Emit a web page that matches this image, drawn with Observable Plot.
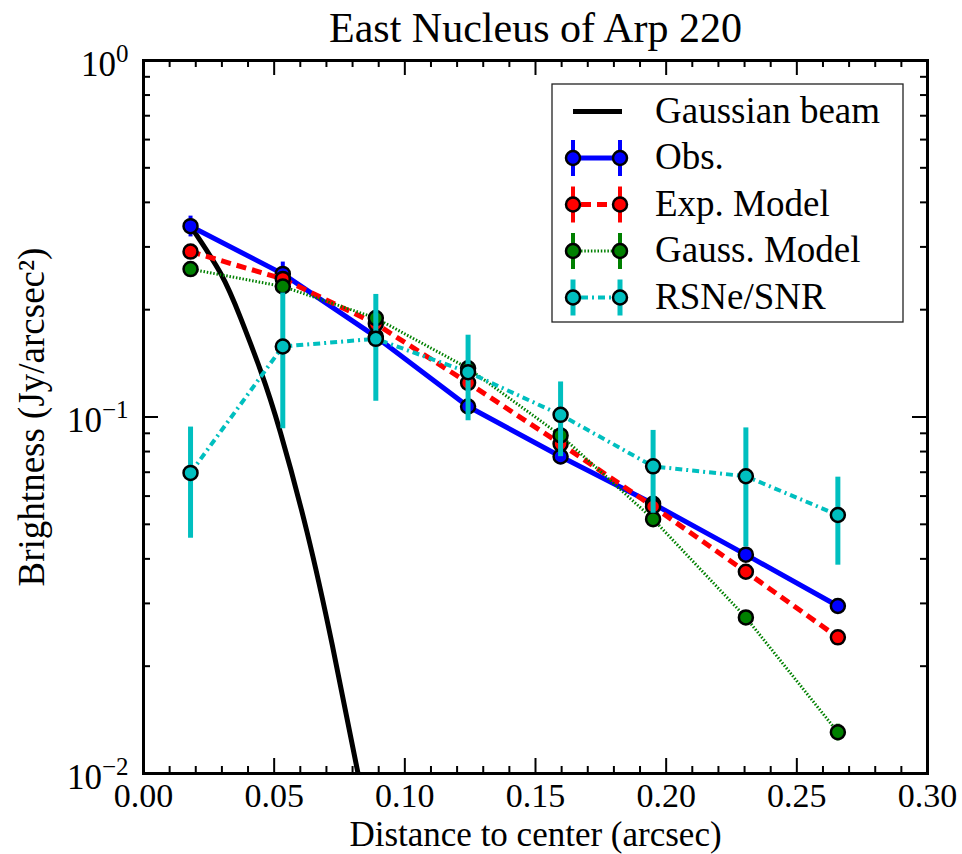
<!DOCTYPE html>
<html><head><meta charset="utf-8">
<script src="https://cdn.jsdelivr.net/npm/d3@7"></script>
<script src="https://cdn.jsdelivr.net/npm/@observablehq/plot@0.6"></script>
<style>
body{margin:0;background:#fff;}
#chart{width:962px;height:854px;}
#chart svg text{font-family:"Liberation Serif","Times New Roman",serif !important;}
</style></head><body><div id="chart"></div>
<script>
// ---- data ----
const distance   = [0.0180, 0.0533, 0.0889, 0.1242, 0.1596, 0.1950, 0.2305, 0.2657];
const obs        = [0.343, 0.252, 0.168, 0.107, 0.0775, 0.0571, 0.0411, 0.0295];
const obsErr     = [0.023, 0.020, 0.012, 0.007, 0.004, 0.003, 0.002, 0.0012];
const expModel   = [0.291, 0.244, 0.1825, 0.1247, 0.0841, 0.0561, 0.0368, 0.0241];
const expErr     = [0.003, 0.003, 0.002, 0.002, 0.0015, 0.001, 0.0007, 0.0005];
const gaussModel = [0.260, 0.2323, 0.1894, 0.137, 0.0888, 0.0517, 0.0274, 0.01305];
const gaussErr   = [0.004, 0.003, 0.003, 0.002, 0.0015, 0.0012, 0.0012, 0.0007];
const rsne       = [0.0697, 0.1577, 0.1657, 0.1336, 0.1014, 0.0727, 0.0682, 0.0531];
const rsneErr    = [0.024, 0.065, 0.055, 0.036, 0.024, 0.019, 0.025, 0.0147];
const beamX      = [0.0180, 0.0295, 0.0371, 0.0448, 0.0524, 0.0626, 0.0722, 0.0821];
const beamY      = [0.343, 0.253, 0.190, 0.135, 0.0905, 0.0475, 0.0230, 0.0100];

const xMajor = [0, 0.05, 0.10, 0.15, 0.20, 0.25, 0.30];
const xTickLabels = ["0.00", "0.05", "0.10", "0.15", "0.20", "0.25", "0.30"];
const xMinor = d3.range(1, 30).filter(i => i % 5 !== 0).map(i => i / 100);
const yMajor = [1, 0.1, 0.01];
const yExponents = ["0", "\u22121", "\u22122"];
const yMinor = [2,3,4,5,6,7,8,9].flatMap(k => [k * 0.01, k * 0.1]);

const titleText = "East Nucleus of Arp 220";
const xLabel = "Distance to center (arcsec)";
const yLabel = "Brightness (Jy/arcsec\u00b2)";
const legendLabels = ["Gaussian beam", "Obs.", "Exp. Model", "Gauss. Model", "RSNe/SNR"];

// ---- styles ----
const FONT = "Liberation Serif, serif";
const W = 962, H = 854, mL = 143, mR = 35, mT = 60, mB = 81;
const innerW = W - mL - mR, innerH = H - mT - mB;
const R = 7;

const series = [
  {name: "Obs.", ys: obs, errs: obsErr, color: "#0000ff", width: 5, dash: null, errWidth: 4},
  {name: "Exp. Model", ys: expModel, errs: expErr, color: "#ff0000", width: 5, dash: "10,6", errWidth: 4},
  {name: "Gauss. Model", ys: gaussModel, errs: gaussErr, color: "#008000", width: 3, dash: "1.5,1.8", errWidth: 4},
  {name: "RSNe/SNR", ys: rsne, errs: rsneErr, color: "#00bfbf", width: 4, dash: "7,4,2,4", errWidth: 5}
];
const rowsOf = s => distance.map((x, i) => ({x, y: s.ys[i], lo: s.ys[i] - s.errs[i], hi: s.ys[i] + s.errs[i]}));
const beamRows = beamX.map((x, i) => ({x, y: beamY[i]}));

const seriesMarks = series.flatMap(s => {
  const rows = rowsOf(s);
  return [
    Plot.ruleX(rows, {x: "x", y1: "lo", y2: "hi", stroke: s.color, strokeWidth: s.errWidth}),
    Plot.line(rows, {x: "x", y: "y", stroke: s.color, strokeWidth: s.width,
      strokeDasharray: s.dash ?? undefined, strokeLinecap: "butt", strokeLinejoin: "round"}),
    Plot.dot(rows, {x: "x", y: "y", r: R, fill: s.color, stroke: "#000", strokeWidth: 2.5})
  ];
});

const txt = {fontFamily: FONT, fill: "#000", lineAnchor: "middle"};

const chart = Plot.plot({
  width: W, height: H,
  marginLeft: mL, marginRight: mR, marginTop: mT, marginBottom: mB,
  style: {fontFamily: FONT, background: "#fff", overflow: "visible"},
  x: {domain: [0, 0.3], axis: null},
  y: {type: "log", domain: [0.01, 1], axis: null},
  marks: [
    Plot.line(beamRows, {x: "x", y: "y", stroke: "#000", strokeWidth: 5, curve: "natural", clip: true}),
    ...seriesMarks,
    // ticks (inward, all four sides)
    Plot.ruleX(xMajor, {x: d => d, insetTop: innerH - 15, stroke: "#000", strokeWidth: 2}),
    Plot.ruleX(xMajor, {x: d => d, insetBottom: innerH - 15, stroke: "#000", strokeWidth: 2}),
    Plot.ruleX(xMinor, {x: d => d, insetTop: innerH - 7, stroke: "#000", strokeWidth: 2}),
    Plot.ruleX(xMinor, {x: d => d, insetBottom: innerH - 7, stroke: "#000", strokeWidth: 2}),
    Plot.ruleY(yMajor, {y: d => d, insetRight: innerW - 15, stroke: "#000", strokeWidth: 2}),
    Plot.ruleY(yMajor, {y: d => d, insetLeft: innerW - 15, stroke: "#000", strokeWidth: 2}),
    Plot.ruleY(yMinor, {y: d => d, insetRight: innerW - 7, stroke: "#000", strokeWidth: 2}),
    Plot.ruleY(yMinor, {y: d => d, insetLeft: innerW - 7, stroke: "#000", strokeWidth: 2}),
    Plot.frame({stroke: "#000", strokeWidth: 3}),
    // tick labels
    Plot.text(xMajor, {...txt, x: d => d, text: (d, i) => xTickLabels[i], frameAnchor: "bottom",
      textAnchor: "middle", dy: 23, fontSize: 34}),
    Plot.text(yMajor, {...txt, y: d => d, text: (d, i) => yExponents[i], frameAnchor: "left",
      textAnchor: "end", dx: -15, dy: 4, fontSize: 35}),
    // axis labels & title
    Plot.text([xLabel], {...txt, text: d => d, frameAnchor: "bottom", textAnchor: "middle", dy: 61.5, fontSize: 35}),
    Plot.text([yLabel], {...txt, text: d => d, frameAnchor: "left", textAnchor: "middle", rotate: -90, dx: -111, fontSize: 37}),
    Plot.text([titleText], {...txt, text: d => d, frameAnchor: "top", textAnchor: "middle", dy: -31.5, fontSize: 42})
  ]
});

// y tick labels: "10" with a raised exponent
d3.select(chart).selectAll("text")
  .filter(function() { return yExponents.includes(this.textContent); })
  .each(function() {
    const t = d3.select(this);
    const exp = t.text();
    t.text("10");
    t.append("tspan").attr("dy", -14).attr("font-size", 25).text(exp);
  });

// legend
const lg = d3.select(chart).append("g").attr("font-family", FONT).attr("text-anchor", "start");
const lx = 552, ly = 84, lw = 351, lh = 238;
lg.append("rect").attr("x", lx).attr("y", ly).attr("width", lw).attr("height", lh)
  .attr("fill", "#fff").attr("stroke", "#222").attr("stroke-width", 1.3);
const rowY0 = 111.5, rowStep = 46.5, hx1 = 573, hx2 = 620, textX = 655;
legendLabels.forEach((label, i) => {
  const y = rowY0 + i * rowStep;
  if (i === 0) {
    lg.append("line").attr("x1", hx1).attr("x2", hx2 + 2).attr("y1", y).attr("y2", y)
      .attr("stroke", "#000").attr("stroke-width", 5);
  } else {
    const s = series[i - 1];
    [hx1, hx2].forEach(x => lg.append("line").attr("x1", x).attr("x2", x).attr("y1", y - 18).attr("y2", y + 18)
      .attr("stroke", s.color).attr("stroke-width", s.errWidth));
    const ln = lg.append("line").attr("x1", hx1).attr("x2", hx2).attr("y1", y).attr("y2", y)
      .attr("stroke", s.color).attr("stroke-width", s.width);
    if (s.dash) ln.attr("stroke-dasharray", s.dash).attr("stroke-dashoffset", -8);
    [hx1, hx2].forEach(x => lg.append("circle").attr("cx", x).attr("cy", y).attr("r", R)
      .attr("fill", s.color).attr("stroke", "#000").attr("stroke-width", 2.5));
  }
  lg.append("text").attr("x", textX).attr("y", y + 11).attr("font-size", 37)
    .attr("text-anchor", "start").attr("fill", "#000").text(label);
});

document.getElementById("chart").appendChild(chart);
</script>
</body></html>
